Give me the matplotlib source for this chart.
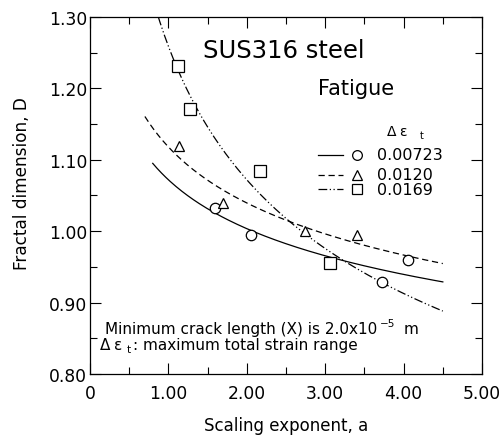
import numpy as np
import matplotlib.pyplot as plt
from matplotlib.ticker import MultipleLocator, FuncFormatter

plt.rcParams['font.family'] = ['DejaVu Sans']

# measured points (scaling exponent a, fractal dimension D)
a_00723 = [1.59, 2.05, 3.72, 4.06]
d_00723 = [1.033, 0.995, 0.929, 0.959]
a_0120 = [1.13, 1.70, 2.74, 3.41]
d_0120 = [1.119, 1.039, 1.000, 0.994]
a_0169 = [1.12, 1.28, 2.17, 3.06]
d_0169 = [1.231, 1.171, 1.084, 0.956]

# power-law fits D = A * a^(-b) and the range they are drawn over
fit_A = [1.072, 1.118, 1.259]
fit_b = [0.0952, 0.105, 0.232]
fit_start = [0.80, 0.70, 0.80]
fit_end = [4.5, 4.5, 4.5]

labels = ['0.00723', '0.0120', '0.0169']
markers = ['o', '^', 's']
styles = ['-', (0, (5, 3)), (0, (7, 2, 1, 2, 1, 2))]

fig = plt.figure(figsize=(5.02, 4.39), dpi=100)
ax = fig.add_axes([0.1793, 0.1458, 0.7809, 0.8132])

pts = [(a_00723, d_00723), (a_0120, d_0120), (a_0169, d_0169)]
for i in range(3):
    x = np.linspace(fit_start[i], fit_end[i], 200)
    ax.plot(x, fit_A[i] * x ** (-fit_b[i]), color='black', lw=0.9, ls=styles[i])
    ax.plot(pts[i][0], pts[i][1], ls='none', marker=markers[i], ms=8 if markers[i] == 's' else 7.5,
            mfc='white', mec='black', mew=0.9, zorder=3)

ax.set_xlim(0, 5)
ax.set_ylim(0.8, 1.3)
ax.xaxis.set_major_locator(MultipleLocator(1))
ax.xaxis.set_minor_locator(MultipleLocator(0.5))
ax.yaxis.set_major_locator(MultipleLocator(0.1))
ax.yaxis.set_minor_locator(MultipleLocator(0.05))
ax.xaxis.set_major_formatter(FuncFormatter(lambda v, p: '0' if v == 0 else '%.2f' % v))
ax.yaxis.set_major_formatter(FuncFormatter(lambda v, p: '%.2f' % v))
ax.tick_params(which='both', direction='in', top=True, right=True, width=0.8, labelsize=12.3)
ax.tick_params(axis='x', pad=7)
ax.tick_params(axis='y', pad=2)
ax.tick_params(which='major', length=8)
ax.tick_params(which='minor', length=5)
for s in ax.spines.values():
    s.set_linewidth(0.9)

ax.set_xlabel('Scaling exponent, a', fontsize=12, labelpad=10)
ax.set_ylabel('Fractal dimension, D', fontsize=12.2)
ax.yaxis.set_label_coords(-0.150, 0.535)

ax.text(1.44, 1.244, 'SUS316 steel', fontsize=17.5)
ax.text(2.91, 1.192, 'Fatigue', fontsize=15)

# hand-placed key
ax.text(3.79, 1.135, 'Δ', fontsize=10)
ax.text(3.94, 1.135, 'ε', fontsize=10)
ax.text(4.21, 1.130, 't', fontsize=7)
key_y = [1.107, 1.079, 1.059]
for i in range(3):
    ax.plot([2.91, 3.23], [key_y[i]] * 2, color='black', lw=0.9, ls=styles[i])
    ax.plot([3.41], [key_y[i]], ls='none', marker=markers[i], ms=7, mfc='white', mec='black', mew=0.9)
    ax.text(3.66, key_y[i], labels[i], fontsize=11.5, va='center')

ax.text(0.19, 0.857, 'Minimum crack length (X) is 2.0x10', fontsize=11)
ax.text(3.70, 0.867, '−5', fontsize=7.5)
ax.text(4.00, 0.857, 'm', fontsize=11)
ax.text(0.13, 0.835, 'Δ', fontsize=11)
ax.text(0.30, 0.835, 'ε', fontsize=11)
ax.text(0.47, 0.831, 't', fontsize=7.5)
ax.text(3.42, 0.835, ': maximum total strain range', fontsize=11, ha='right')

fig.savefig('out.png', dpi=100)
